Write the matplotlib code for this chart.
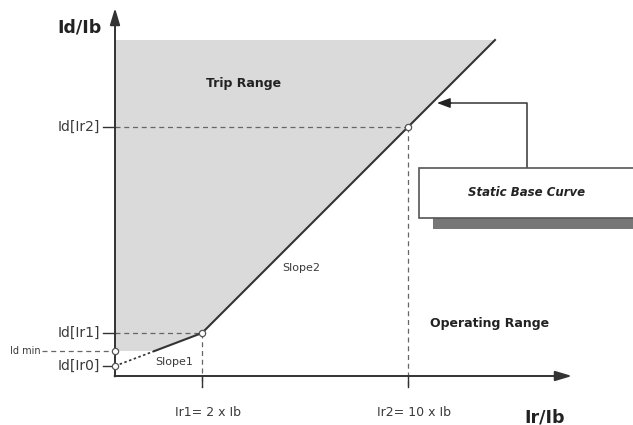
import matplotlib.pyplot as plt
from matplotlib.patches import Polygon, Rectangle

# schematic values of the differential characteristic (arbitrary units)
ir1, ir2 = 8.7, 29.3
id_ir0, id_min, id_ir1, id_ir2 = 1.0, 2.5, 4.3, 24.9
id_top = 33.6
ytick_vals = [id_ir2, id_ir1, id_ir0]
ytick_labels = ['Id[Ir2]', 'Id[Ir1]', 'Id[Ir0]']
xtick_vals = [ir1, ir2]
xtick_labels = ['Ir1= 2 x Ib', 'Ir2= 10 x Ib']

line_c = '#333333'
text_c = '#3a3a3a'

fig = plt.figure(figsize=(6.33, 4.25), dpi=100)
ax = fig.add_axes([0, 0, 1, 1])
ax.set_xlim(-11.5, 51.8)
ax.set_ylim(-4.9, 37.6)
ax.axis('off')

# slopes
s1 = (id_ir1 - id_ir0) / ir1
s2 = (id_ir2 - id_ir1) / (ir2 - ir1)
x_min = (id_min - id_ir0) / s1
x_end = ir2 + (id_top - id_ir2) / s2

# trip range shading
shade = Polygon([(0, id_top), (x_end, id_top), (ir1, id_ir1), (x_min, id_min), (0, id_min)],
                closed=True, facecolor='#dadada', edgecolor='none', zorder=1)
ax.add_patch(shade)

# axes with arrows
arrow_kw = dict(arrowstyle='-|>,head_length=1.0,head_width=0.3', color=line_c, lw=1.4,
                shrinkA=0, shrinkB=0)
ax.annotate('', xy=(0, 36.8), xytext=(0, -0.05), arrowprops=arrow_kw)
ax.annotate('', xy=(45.7, 0), xytext=(-0.05, 0), arrowprops=arrow_kw)

# characteristic
ax.plot([0, x_min], [id_ir0, id_min], color=line_c, lw=1.2, ls=(0, (1.5, 1.5)), zorder=3)
ax.plot([x_min, ir1, x_end], [id_min, id_ir1, id_top], color=line_c, lw=1.5, zorder=3)

# dashed guide lines
dash = dict(color='#666666', lw=0.9, ls=(0, (4, 3)), zorder=2)
ax.plot([0, ir2], [id_ir2, id_ir2], **dash)
ax.plot([0, ir1], [id_ir1, id_ir1], **dash)
ax.plot([ir2, ir2], [id_ir2, -1.1], **dash)
ax.plot([ir1, ir1], [id_ir1, -1.1], **dash)
ax.plot([-7.3, 0], [id_min, id_min], **dash)

# tick marks and labels
for v, lab in zip(ytick_vals, ytick_labels):
    ax.plot([-1.2, 0], [v, v], color=line_c, lw=1.0)
    ax.text(-1.5, v, lab, ha='right', va='center', fontsize=10, color=text_c)
for v, lab in zip(xtick_vals, xtick_labels):
    ax.plot([v, v], [0, -1.1], color=line_c, lw=1.0)
    ax.text(v + 0.6, -3.6, lab, ha='center', va='center', fontsize=9, color=text_c)
ax.text(-10.5, id_min, 'Id min', ha='left', va='center', fontsize=7, color=text_c)

# marker circles
ax.plot([0, 0, ir1, ir2], [id_min, id_ir0, id_ir1, id_ir2], 'o', ms=4.5,
        mfc='white', mec='#555555', mew=0.9, zorder=4)

# axis titles
ax.text(-1.3, 34.8, 'Id/Ib', ha='right', va='center', fontsize=12.5, fontweight='bold', color='#222222')
ax.text(43.0, -4.1, 'Ir/Ib', ha='center', va='center', fontsize=12.5, fontweight='bold', color='#222222')

# region labels
ax.text(12.9, 29.3, 'Trip Range', ha='center', va='center', fontsize=9, fontweight='bold', color='#222222')
ax.text(37.5, 5.3, 'Operating Range', ha='center', va='center', fontsize=9, fontweight='bold', color='#222222')
ax.text(5.9, 1.4, 'Slope1', ha='center', va='center', fontsize=8, color=text_c)
ax.text(18.6, 10.8, 'Slope2', ha='center', va='center', fontsize=8, color=text_c)

# static base curve box with shadow
ax.add_patch(Rectangle((31.8, 14.7), 25, 1.2, facecolor='#777777', edgecolor='none', zorder=4))
ax.add_patch(Rectangle((30.4, 15.8), 25, 5.0, facecolor='white', edgecolor='#555555', lw=1.2, zorder=5))
ax.text(41.2, 18.4, 'Static Base Curve', ha='center', va='center', fontsize=8.5,
        fontweight='bold', fontstyle='italic', color='#222222', zorder=6)
ax.plot([41.2, 41.2, 33.5], [20.8, 27.3, 27.3], color='#444444', lw=1.2, zorder=3)
ax.annotate('', xy=(32.2, 27.3), xytext=(33.6, 27.3),
            arrowprops=dict(arrowstyle='-|>,head_length=0.8,head_width=0.3', color='#222222', lw=1.0,
                            shrinkA=0, shrinkB=0))

fig.savefig('out.png', dpi=100)
